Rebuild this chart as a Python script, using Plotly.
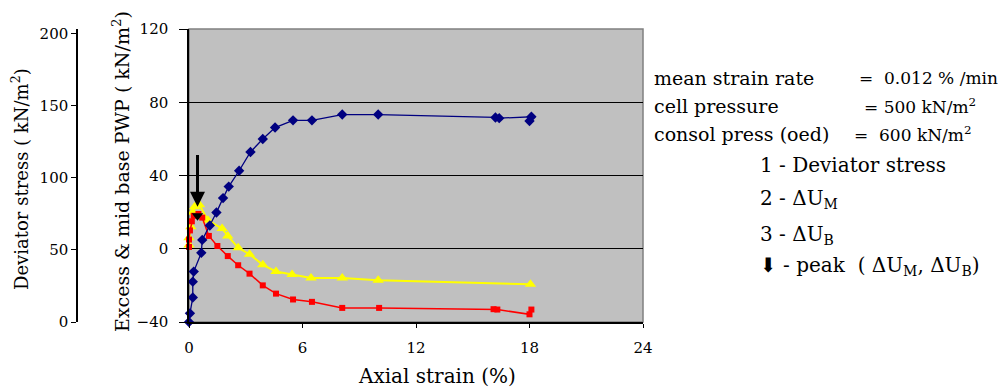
import plotly.graph_objects as go

# ---- data ----
dev_strain = [0.0, 0.05, 0.2, 0.2, 0.25, 0.65, 0.7, 1.1, 1.45, 1.8, 2.1, 2.65, 3.25, 3.9,
              4.55, 5.5, 6.5, 8.1, 10.0, 16.2, 16.4, 18.1, 18.0]
dev_stress = [0, 6, 17, 28, 35, 48, 57, 67, 76, 86, 94, 105, 118, 127,
              135, 140, 140, 144, 144, 142, 141.5, 142.5, 139.5]

um_strain = [0.0, 0.0, 0.05, 0.15, 0.25, 0.5, 0.7, 1.05, 1.5, 2.05, 2.6, 3.2, 3.9,
             4.6, 5.5, 6.5, 8.1, 10.05, 16.1, 16.3, 18.0, 18.1]
um_pwp = [1, 5, 10, 15, 18, 19, 17, 7, 1.5, -4, -9, -13.6, -20,
          -24.5, -27.7, -29, -32.3, -32.3, -33, -33.2, -35.8, -33.2]

ub_strain = [0.0, 0.0, 0.1, 0.2, 0.3, 0.55, 1.0, 1.75, 2.05, 2.6, 3.2, 3.9, 4.6,
             5.45, 6.45, 8.1, 10.0, 18.05]
ub_pwp = [2, 6, 12, 20, 23, 24, 15.5, 11, 7, 0.5, -3, -8.8, -12.4,
          -14, -16, -16, -17.2, -19.4]

peak_strain = [0.45]
peak_pwp = [18]
arrow_tail_pwp = 52

x_ticks = [0, 6, 12, 18, 24]
pwp_ticks = [-40, 0, 40, 80, 120]
dev_ticks = [0, 50, 100, 150, 200]

info_left = ["mean strain rate", "cell pressure", "consol press (oed)"]
info_right = ["=  0.012 % /min", "= 500 kN/m<sup>2</sup>", "=  600 kN/m<sup>2</sup>"]
legend_lines = ["1 - Deviator stress",
                "2 - ΔU<sub>M</sub>",
                "3 - ΔU<sub>B</sub>",
                "⬇ - peak  ( ΔU<sub>M</sub>, ΔU<sub>B</sub>)"]

# ---- layout geometry (page has an 8px body margin) ----
OFF = 8
W, H = 1006 - OFF, 390 - OFF
ML, MR, MT, MB = 32, 363, 19, 68
PW = W - ML - MR
PH = H - MT - MB
def px(xp):          # page pixel x -> paper x
    return (xp - OFF - ML) / PW
def py(yp):          # page pixel y -> paper y
    return (H - MB - (yp - OFF)) / PH

FONT = "DejaVu Serif, Liberation Serif, serif"

fig = go.Figure()

fig.add_trace(go.Scatter(
    x=dev_strain, y=dev_stress, yaxis="y2", mode="lines+markers",
    line=dict(color="#000080", width=1.3),
    marker=dict(symbol="diamond", size=8, color="#000080"),
    cliponaxis=False, showlegend=False))

fig.add_trace(go.Scatter(
    x=ub_strain, y=ub_pwp, mode="lines+markers",
    line=dict(color="#FFFF00", width=2),
    marker=dict(symbol="triangle-up", size=10, color="#FFFF00"),
    cliponaxis=False, showlegend=False))

fig.add_trace(go.Scatter(
    x=um_strain, y=um_pwp, mode="lines+markers",
    line=dict(color="#FF0000", width=1.5),
    marker=dict(symbol="square", size=6, color="#FF0000"),
    cliponaxis=False, showlegend=False))

fig.add_trace(go.Scatter(
    x=peak_strain, y=peak_pwp, mode="markers",
    marker=dict(symbol="triangle-down", size=10, color="black"),
    cliponaxis=False, showlegend=False))

fig.add_annotation(x=peak_strain[0], y=peak_pwp[0] + 5, ax=peak_strain[0], ay=arrow_tail_pwp,
                   xref="x", yref="y", axref="x", ayref="y",
                   showarrow=True, arrowhead=2, arrowsize=1, arrowwidth=3, arrowcolor="black",
                   text="")

# right-hand information text
rows_y = [76, 105, 133]
right_x = [857, 862, 852]
for t, y in zip(info_left, rows_y):
    fig.add_annotation(x=px(652), y=py(y), xref="paper", yref="paper", text=t,
                       showarrow=False, xanchor="left", yanchor="middle",
                       font=dict(family=FONT, size=19, color="black"))
for t, y, x in zip(info_right, rows_y, right_x):
    fig.add_annotation(x=px(x), y=py(y), xref="paper", yref="paper", text=t,
                       showarrow=False, xanchor="left", yanchor="middle",
                       font=dict(family=FONT, size=17, color="black"))
for t, y in zip(legend_lines, [164, 198, 234, 266]):
    fig.add_annotation(x=px(758), y=py(y), xref="paper", yref="paper", text=t,
                       showarrow=False, xanchor="left", yanchor="middle",
                       font=dict(family=FONT, size=20, color="black"))

# axis titles
fig.add_annotation(x=px(20), y=py(178), xref="paper", yref="paper",
                   text="Deviator stress ( kN/m<sup>2</sup>)", textangle=-90,
                   showarrow=False, xanchor="center", yanchor="middle",
                   font=dict(family=FONT, size=18, color="black"))
fig.add_annotation(x=px(121), y=py(171), xref="paper", yref="paper",
                   text="Excess & mid base PWP ( kN/m<sup>2</sup>)", textangle=-90,
                   showarrow=False, xanchor="center", yanchor="middle",
                   font=dict(family=FONT, size=19, color="black"))
fig.add_annotation(x=px(437), y=py(376), xref="paper", yref="paper",
                   text="Axial strain (%)",
                   showarrow=False, xanchor="center", yanchor="middle",
                   font=dict(family=FONT, size=20, color="black"))

# grey frame (top/right)
fig.add_shape(type="rect", xref="x domain", yref="y domain", x0=0, x1=1, y0=0, y1=1,
              line=dict(color="#808080", width=1.5), layer="below")

tickfont = dict(family=FONT, size=15, color="black")
fig.update_layout(
    width=W, height=H,
    margin=dict(l=ML, r=MR, t=MT, b=MB, pad=0),
    paper_bgcolor="white", plot_bgcolor="#C0C0C0",
    xaxis=dict(domain=[px(189), 1], range=[0, 24], tickvals=x_ticks,
               showgrid=False, zeroline=False, showline=True, linecolor="black", linewidth=1.5,
               ticks="outside", ticklen=4, tickcolor="black", tickfont=tickfont,
               ticklabelstandoff=7),
    yaxis=dict(range=[-40, 120], tickvals=pwp_ticks, showgrid=True, gridcolor="black", gridwidth=1.3,
               zeroline=False, showline=True, linecolor="black", linewidth=1.5,
               ticks="outside", ticklen=8, tickcolor="black", tickfont=tickfont,
               ticklabelstandoff=8),
    yaxis2=dict(overlaying="y", anchor="free", position=px(77), side="left",
                range=[0, 203.4], tickvals=dev_ticks, showgrid=False, zeroline=False,
                showline=True, linecolor="black", linewidth=1.5,
                ticks="outside", ticklen=5, tickcolor="black", tickfont=tickfont),
)

fig.write_html("out.html")
